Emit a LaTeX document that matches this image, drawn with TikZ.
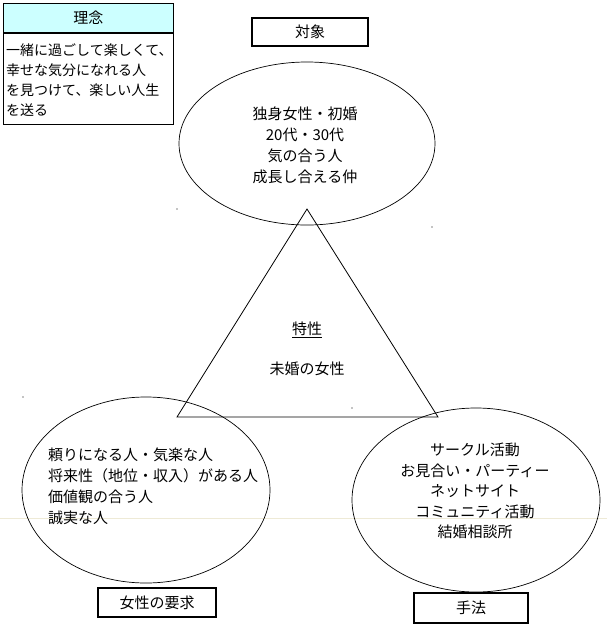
\documentclass[tikz,border=0pt]{standalone}
\usepackage{fontspec}
\setmainfont{Noto Sans CJK JP}
\usetikzlibrary{shapes.geometric, shadows}
\definecolor{headcyan}{RGB}{204,255,255}
\definecolor{faintline}{RGB}{238,234,214}

\begin{document}
\begin{tikzpicture}[x=1pt, y=-1pt,
    bubble/.style={draw, ellipse, line width=0.7pt, inner sep=0pt},
    tag/.style={draw, fill=white, line width=1.1pt, inner sep=0pt,
        font=\fontsize{15}{18}\selectfont,
        drop shadow={shadow xshift=1.4pt, shadow yshift=-1.4pt, fill=gray!80, opacity=1}},
    words/.style={inner sep=0pt, font=\fontsize{15}{21}\selectfont},
    speck/.style={fill=black}]
    \fill[white] (0,0) rectangle (607,633);
    \useasboundingbox (0,0) rectangle (607,633);

    % faint rule across the page
    \draw[faintline, line width=0.8pt] (0,518) -- (607,518);

    % the three circles
    \node[bubble, minimum width=256pt, minimum height=163pt] (target) at (307,143.5) {};
    \node[bubble, minimum width=248pt, minimum height=186pt] (wants) at (146,490) {};
    \node[bubble, minimum width=248pt, minimum height=184pt] (means) at (476,500) {};

    % triangle in the middle
    \coordinate (apex) at (307,209);
    \coordinate (baseL) at (177,417);
    \coordinate (baseR) at (438,417);
    \draw[line width=0.8pt] (apex) -- (baseL) -- (baseR) -- cycle;

    % small specks
    \fill[speck] (177,209) circle (0.6);
    \fill[speck] (432,227) circle (0.6);
    \fill[speck] (352,408) circle (0.6);
    \fill[speck] (23,397) circle (0.6);

    % texts
    \node[words, align=center] (targettext) at (305,145)
        {独身女性・初婚\\20代・30代\\気の合う人\\成長し合える仲};
    \node[words] (traittitle) at (307,330) {\underline{特性}};
    \node[words] (traittext) at (307,369) {未婚の女性};
    \node[words, align=left, anchor=west, font=\fontsize{15}{21}\selectfont] (wantstext) at (48,486.5)
        {頼りになる人・気楽な人\\将来性（地位・収入）がある人\\価値観の合う人\\誠実な人};
    \node[words, align=center, font=\fontsize{15}{20.5}\selectfont] (meanstext) at (475,491)
        {サークル活動\\お見合い・パーティー\\ネットサイト\\コミュニティ活動\\結婚相談所};

    % labels
    \node[tag, minimum width=116pt, minimum height=28pt] (targetlabel) at (310,32) {対象};
    \node[tag, minimum width=118pt, minimum height=29pt] (wantslabel) at (157,602.5) {女性の要求};
    \node[tag, minimum width=114pt, minimum height=30pt] (meanslabel) at (471,608) {手法};

    % idea box
    \node[draw, fill=headcyan, line width=0.7pt, anchor=north west, inner sep=0pt,
        minimum width=170pt, minimum height=29pt, font=\fontsize{15}{18}\selectfont] (ideahead) at (3,3) {理念};
    \node[draw, line width=0.7pt, anchor=north west, inner sep=0pt,
        minimum width=170pt, minimum height=91pt] (ideabody) at (ideahead.south west) {};
    \node[words, align=left, anchor=west, font=\fontsize{14}{20}\selectfont] (ideatext) at (6,80)
        {一緒に過ごして楽しくて、\\幸せな気分になれる人\\を見つけて、楽しい人生\\を送る};
\end{tikzpicture}
\end{document}
